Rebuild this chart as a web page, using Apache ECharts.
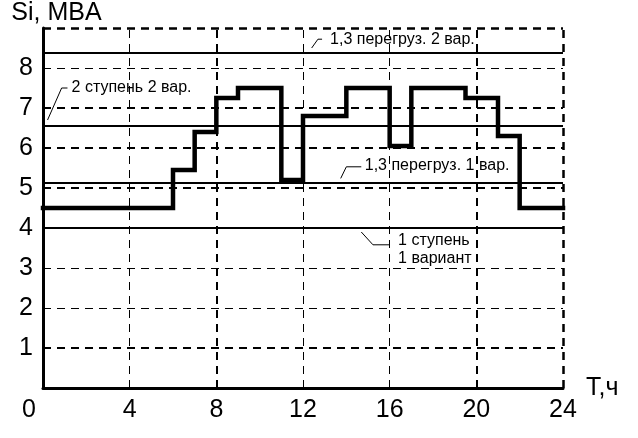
<!DOCTYPE html>
<html><head><meta charset="utf-8">
<script src="https://cdn.jsdelivr.net/npm/echarts@6/dist/echarts.min.js"></script>
<style>html,body{margin:0;padding:0;background:#fff}#c{width:638px;height:438px}</style>
</head><body><div id="c"></div>
<script>
// ---- data ----
const hours = [0, 6, 7, 8, 9, 11, 12, 14, 16, 17, 19.5, 21, 22, 24];
const load  = [4.5, 5.45, 6.4, 7.25, 7.5, 5.2, 6.8, 7.5, 6.05, 7.5, 7.25, 6.3, 4.5, 4.5];
const levelValues = [8.38, 6.55, 5.12, 4.0];
const levelNames = ['1,3 перегруз. 2 вар.', '2 ступень 2 вар.', '1,3 перегруз. 1 вар.', '1 ступень\n1 вариант'];
const labelAnchors = [[13.25, 8.72], [1.32, 7.5], [14.85, 5.55], [16.39, 3.46]];
const labelLeaders = [
  [[12.4, 8.50], [12.69, 8.72], [12.88, 8.72]],
  [[0.21, 6.70], [0.86, 7.50], [1.13, 7.50]],
  [[13.74, 5.24], [14.0, 5.53], [14.69, 5.53]],
  [[14.69, 3.90], [15.23, 3.58], [16.0, 3.58]]
];
const gridX = [4, 8, 12, 16, 20, 24];
const gridXWidth = [1, 2, 1, 1, 2, 2.5];
const gridY = [1, 2, 3, 5, 6, 7, 8, 9];
const gridYWidth = [2, 1, 1, 2, 2, 2, 1, 2.5];

const FONT = '"Liberation Sans", Arial, sans-serif';
const chart = echarts.init(document.getElementById('c'));

const gridLines = [];
gridX.forEach((v, i) => gridLines.push({ xAxis: v, lineStyle: { width: gridXWidth[i] } }));
gridY.forEach((v, i) => gridLines.push({ yAxis: v, lineStyle: { width: gridYWidth[i] } }));

chart.setOption({
  animation: false,
  backgroundColor: '#fff',
  grid: { left: 43, right: 75, top: 28, bottom: 50 },
  xAxis: {
    type: 'value', min: 0, max: 24, interval: 4,
    name: 'T,ч', nameLocation: 'end', nameGap: 23,
    nameTextStyle: { fontSize: 25, color: '#000', fontFamily: FONT },
    axisLine: { show: true, lineStyle: { color: '#000', width: 3 } },
    axisTick: { show: false },
    splitLine: { show: false },
    axisLabel: {
      fontSize: 25, color: '#000', fontFamily: FONT, margin: 10,
      formatter: v => v === 0 ? '{z|0}' : String(v),
      rich: { z: { fontSize: 25, color: '#000', fontFamily: FONT, padding: [0, 28, 0, 0] } }
    }
  },
  yAxis: {
    type: 'value', min: 0, max: 9, interval: 1,
    name: 'Si, MBA', nameLocation: 'end', nameGap: 2,
    nameTextStyle: { fontSize: 25, color: '#000', fontFamily: FONT, padding: [0, 0, 0, 27] },
    axisLine: { show: true, lineStyle: { color: '#000', width: 3 } },
    axisTick: { show: false },
    splitLine: { show: false },
    axisLabel: {
      fontSize: 25, color: '#000', fontFamily: FONT, margin: 10,
      formatter: v => (v === 0 || v === 9) ? '' : String(v)
    }
  },
  series: [
    {
      type: 'line', data: [], z: 1, silent: true,
      markLine: {
        silent: true, symbol: ['none', 'none'], label: { show: false },
        lineStyle: { color: '#000', type: [8, 6] },
        data: gridLines
      }
    },
    {
      type: 'line', data: [], z: 2, silent: true,
      markLine: {
        silent: true, symbol: ['none', 'none'], label: { show: false },
        lineStyle: { color: '#000', type: 'solid', width: 2 },
        data: levelValues.map(v => ({ yAxis: v }))
      }
    },
    {
      type: 'line', step: 'end', z: 3, symbol: 'none',
      data: hours.map((h, i) => [h, load[i]]),
      lineStyle: { color: '#000', width: 4.5, join: 'miter', cap: 'square' }
    }
  ]
});

const graphics = [];
levelNames.forEach((name, i) => {
  const pts = labelLeaders[i].map(p => chart.convertToPixel({ gridIndex: 0 }, p));
  graphics.push({
    type: 'polyline', silent: true,
    shape: { points: pts },
    style: { stroke: '#000', lineWidth: 1, fill: null }
  });
  const a = chart.convertToPixel({ gridIndex: 0 }, labelAnchors[i]);
  graphics.push({
    type: 'text', silent: true, x: a[0], y: a[1],
    style: {
      text: name, fill: '#000', fontSize: 16, fontFamily: FONT,
      align: 'left', verticalAlign: 'middle', lineHeight: 18,
      backgroundColor: i === 2 ? null : null
    }
  });
});
chart.setOption({ graphic: graphics });
</script>
</body></html>
